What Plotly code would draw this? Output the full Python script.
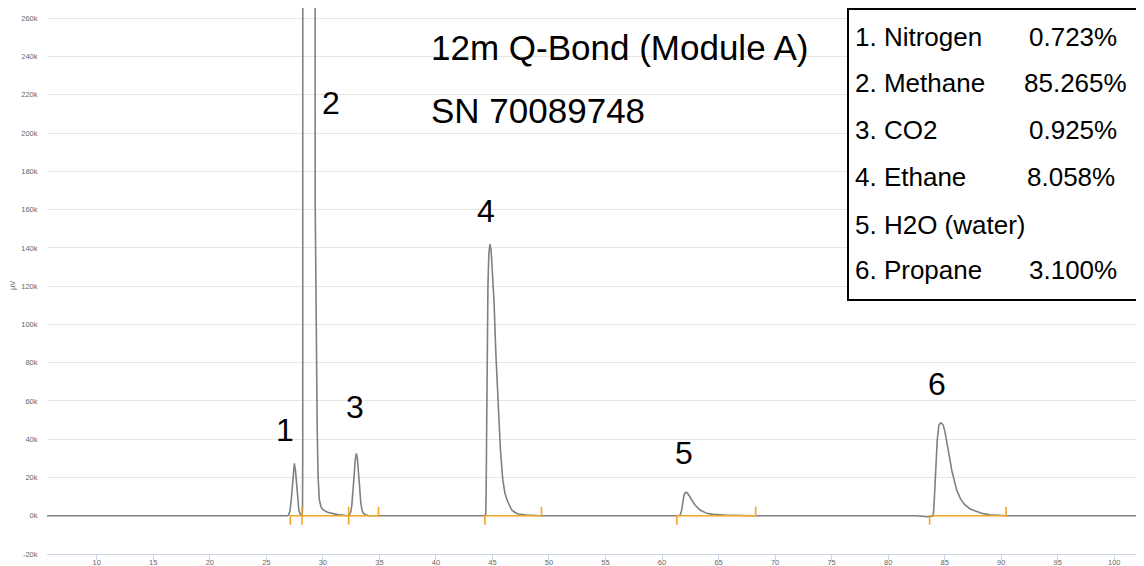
import plotly.graph_objects as go

# ---------------- data ----------------
# retention time (min) and detector signal (µV) of the chromatogram trace
time_min = [
    5.6, 26.9, 26.98, 27.08, 27.18, 27.28, 27.38, 27.48, 27.58, 27.68, 27.78, 27.88, 27.98, 28.08,
    28.15, 28.20, 28.22, 28.23, 28.24, 29.29, 29.30, 29.32, 29.40, 29.50, 29.58, 29.69, 29.85, 30.04,
    30.40, 30.78, 31.30, 31.90, 32.28,
    32.36, 32.46, 32.56, 32.66, 32.76, 32.86, 32.96, 33.06, 33.16, 33.26, 33.36, 33.46, 33.58, 33.75,
    34.0, 34.5,
    44.30, 44.40, 44.44, 44.48, 44.53, 44.60, 44.68, 44.78, 44.88, 45.00, 45.14, 45.30, 45.49, 45.70,
    45.91, 46.10, 46.29, 46.50, 46.70, 47.00, 47.26, 48.0, 49.0, 49.34,
    61.30, 61.60, 61.72, 61.82, 61.94, 62.04, 62.14, 62.24, 62.33, 62.48, 62.63, 62.92, 63.36, 63.95,
    64.53, 65.5, 67.0, 68.28,
    82.5, 83.5, 83.95, 84.02, 84.08, 84.23, 84.34, 84.49, 84.57, 84.65, 84.75, 84.87, 85.02, 85.17,
    85.40, 85.62, 85.85, 86.06, 86.40, 86.79, 87.30, 87.83, 88.40, 89.0, 90.0, 90.43,
    102.7,
]
signal_uv = [
    0, 0, 600, 2300, 6800, 14800, 23500, 27400, 23500, 15000, 7200, 2800, 1000, 300,
    200, 3000, 30000, 900000, 900000, 900000, 900000, 165000, 90000, 45000, 20000, 8200, 4500, 3000,
    1800, 1200, 600, 200, 0,
    500, 1900, 5300, 11700, 20700, 29100, 32600, 29500, 21500, 12800, 6500, 3000, 1300, 500,
    100, 0,
    0, 800, 10000, 40000, 85000, 120000, 137000, 142000, 139000, 128000, 112000, 85000, 60000, 35000,
    19000, 12000, 8200, 5000, 3000, 1700, 900, 300, 100, 0,
    0, 200, 2500, 6500, 10800, 12000, 12200, 11900, 11300, 9800, 8200, 5600, 3000, 1250,
    700, 300, 100, 0,
    0, -500, -300, 2000, 8200, 25600, 39600, 47400, 48400, 48600, 48200, 47400, 44000, 39600,
    31500, 23900, 17800, 13400, 8800, 5600, 3400, 2100, 1100, 500, 100, 0,
    0,
]

# integration windows (start, end) in minutes
peak_start = [27.12, 28.15, 32.28, 44.33, 61.31, 83.67]
peak_end = [28.15, 32.28, 34.92, 49.34, 68.28, 90.43]

peak_numbers = ["1", "2", "3", "4", "5", "6"]

compounds = ["1. Nitrogen", "2. Methane", "3. CO2", "4. Ethane", "5. H2O (water)", "6. Propane"]
percents = ["0.723%", "85.265%", "0.925%", "8.058%", "", "3.100%"]

x_tick_vals = [10, 15, 20, 25, 30, 35, 40, 45, 50, 55, 60, 65, 70, 75, 80, 85, 90, 95, 100]
x_tick_text = [str(v) for v in x_tick_vals]
y_tick_vals = [-20000, 0, 20000, 40000, 60000, 80000, 100000, 120000, 140000, 160000,
               180000, 200000, 220000, 240000, 260000]
y_tick_text = ["-20k", "0k", "20k", "40k", "60k", "80k", "100k", "120k", "140k", "160k",
               "180k", "200k", "220k", "240k", "260k"]

title_lines = ["12m Q-Bond (Module A)", "SN 70089748"]

# ---------------- layout / style ----------------
OFF = 8                       # page body offset
W, H = 1144 - OFF, 566 - OFF
ML, MR, MT, MB = 47 - OFF, 0, 0, 12
PW, PH = W - ML - MR, H - MT - MB
PLOT_LEFT = OFF + ML          # 47 px on screen
PLOT_BOTTOM = OFF + MT + PH   # 554 px on screen
TICK = 4700  # half-length of integration markers (µV)
FONT = "Liberation Sans, Arial, Helvetica, sans-serif"
PAD = 3


def px_x(px):
    return (px - PLOT_LEFT) / PW


def px_y(py):
    return (PLOT_BOTTOM - py) / PH


# peak label positions (data coords)
label_pos_x = [26.65, 30.72, 32.84, 44.43, 61.92, 84.32]
label_pos_y = [44800, 215800, 56800, 159400, 32700, 69000]

# legend row positions (pixels)
row_py = [37, 83, 130, 177, 225, 270]
pct_px = [1030, 1025, 1030, 1028, 1030, 1030]

fig = go.Figure()

fig.add_trace(go.Scatter(
    x=time_min, y=signal_uv, mode="lines",
    line=dict(color="#808080", width=1.6),
    hoverinfo="skip", showlegend=False,
))

ix, iy = [], []
for s, e in zip(peak_start, peak_end):
    ix += [s, s, e, e, None]
    iy += [-TICK, 0, 0, TICK, None]
fig.add_trace(go.Scatter(
    x=ix, y=iy, mode="lines",
    line=dict(color="#f2a52b", width=1.6),
    hoverinfo="skip", showlegend=False,
))

annotations = []
for t, xx, yy in zip(peak_numbers, label_pos_x, label_pos_y):
    annotations.append(dict(x=xx, y=yy, xref="x", yref="y", text=t, showarrow=False,
                            font=dict(family=FONT, size=32, color="black"),
                            xanchor="center", yanchor="middle"))

for t, py in zip(title_lines, [48, 110]):
    annotations.append(dict(x=px_x(432 - PAD), y=px_y(py), xref="paper", yref="paper", text=t,
                            showarrow=False, font=dict(family=FONT, size=35, color="black"),
                            xanchor="left", yanchor="middle"))

for name, pct, py, ppx in zip(compounds, percents, row_py, pct_px):
    annotations.append(dict(x=px_x(856.5 - PAD), y=px_y(py), xref="paper", yref="paper", text=name,
                            showarrow=False, font=dict(family=FONT, size=26, color="black"),
                            xanchor="left", yanchor="middle"))
    if pct:
        annotations.append(dict(x=px_x(ppx - PAD), y=px_y(py), xref="paper", yref="paper", text=pct,
                                showarrow=False, font=dict(family=FONT, size=26, color="black"),
                                xanchor="left", yanchor="middle"))

annotations.append(dict(x=px_x(12), y=px_y(286), xref="paper", yref="paper", text="µV",
                        showarrow=False, textangle=-90,
                        font=dict(family=FONT, size=7.5, color="#666666"),
                        xanchor="center", yanchor="middle"))

fig.update_layout(
    width=W, height=H, autosize=False,
    margin=dict(l=ML, r=MR, t=MT, b=MB, autoexpand=False),
    paper_bgcolor="white", plot_bgcolor="white",
    showlegend=False,
    annotations=annotations,
    shapes=[dict(type="rect", xref="paper", yref="paper",
                 x0=px_x(848), x1=px_x(1137.5), y0=px_y(300), y1=px_y(9),
                 line=dict(color="black", width=2), fillcolor="white", layer="above")],
    xaxis=dict(range=[5.6, 102.63], tickvals=x_tick_vals, ticktext=x_tick_text,
               ticks="outside", ticklen=5, tickcolor="#ccd6eb", tickwidth=1,
               ticklabelstandoff=-4,
               showline=True, linecolor="#ccd6eb", linewidth=1,
               showgrid=False, zeroline=False, automargin=False,
               tickfont=dict(family=FONT, size=7.5, color="#666666")),
    yaxis=dict(range=[-20000, 265400], tickvals=y_tick_vals, ticktext=y_tick_text,
               ticks="outside", ticklen=7, tickcolor="rgba(0,0,0,0)",
               showgrid=True, gridcolor="#e6e6e6", gridwidth=1,
               zeroline=False, showline=False, automargin=False,
               tickfont=dict(family=FONT, size=7.5, color="#666666")),
)

fig.write_html("out.html")
